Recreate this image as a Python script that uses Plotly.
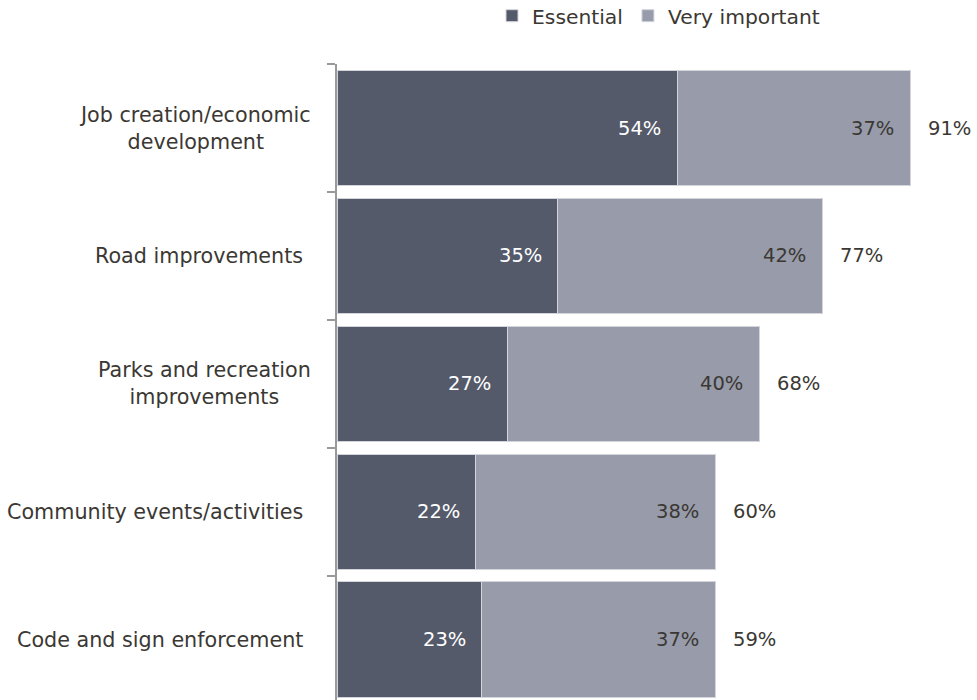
import plotly.graph_objects as go

categories = [
    "Job creation/economic<br>development",
    "Road improvements",
    "Parks and recreation<br>improvements",
    "Community events/activities",
    "Code and sign enforcement",
]
essential = [54, 35, 27, 22, 23]
very_important = [37, 42, 40, 38, 37]
totals = [91, 77, 68, 60, 59]

DARK = "#545a6a"
LIGHT = "#979baa"
TEXT = "#3b3833"
FONT = "DejaVu Sans"

W, H = 977, 700
ML, MR, MT = 337, 10, 64
PLOT_W = W - ML - MR
PLOT_H = H - MT

fig = go.Figure()
fig.add_trace(go.Bar(
    y=categories, x=essential, name="Essential", orientation="h",
    marker=dict(color=DARK, line=dict(color="#d4d5dc", width=1)),
))
fig.add_trace(go.Bar(
    y=categories, x=very_important, name="Very important", orientation="h",
    marker=dict(color=LIGHT, line=dict(color="#d4d5dc", width=1)),
))

ann = []
for cat, e, v, t in zip(categories, essential, very_important, totals):
    # segment values, right-aligned inside each segment
    ann.append(dict(x=e, y=cat, xref="x", yref="y", text=f"{e}%", showarrow=False,
                    xanchor="right", xshift=-14, font=dict(color="white", size=19.5, family=FONT)))
    ann.append(dict(x=e + v, y=cat, xref="x", yref="y", text=f"{v}%", showarrow=False,
                    xanchor="right", xshift=-14, font=dict(color=TEXT, size=19.5, family=FONT)))
    # total at the end of each bar
    ann.append(dict(x=e + v, y=cat, xref="x", yref="y", text=f"{t}%", showarrow=False,
                    xanchor="left", xshift=16, font=dict(color=TEXT, size=19.5, family=FONT)))
    # category label, wrapped lines centred on each other
    ann.append(dict(x=0, y=cat, xref="x", yref="y", text=cat, showarrow=False,
                    xanchor="right", align="center",
                    xshift=-24 if "<br>" in cat else -32,
                    font=dict(color=TEXT, size=20.7, family=FONT)))

fig.update_layout(
    width=W, height=H,
    margin=dict(l=ML, r=MR, t=MT, b=0, autoexpand=False),
    barmode="stack", bargap=0.094,
    plot_bgcolor="white", paper_bgcolor="white",
    font=dict(family=FONT, color=TEXT, size=20),
    showlegend=True,
    legend=dict(orientation="h", x=(492 - ML) / PLOT_W, xanchor="left",
                y=1 + (MT - 16) / PLOT_H, yanchor="middle",
                font=dict(size=20.3, color=TEXT), itemwidth=30,
                traceorder="normal"),
    annotations=ann,
)
fig.update_xaxes(range=[0, 100], visible=False)
fig.update_yaxes(
    range=[4.469, -0.5], showticklabels=False, showline=True, linecolor="#9a9a9a",
    linewidth=2, ticks="outside", tickson="boundaries", ticklen=8, tickcolor="#9a9a9a",
    tickwidth=2, showgrid=False, zeroline=False,
)

fig.write_html("out.html")
